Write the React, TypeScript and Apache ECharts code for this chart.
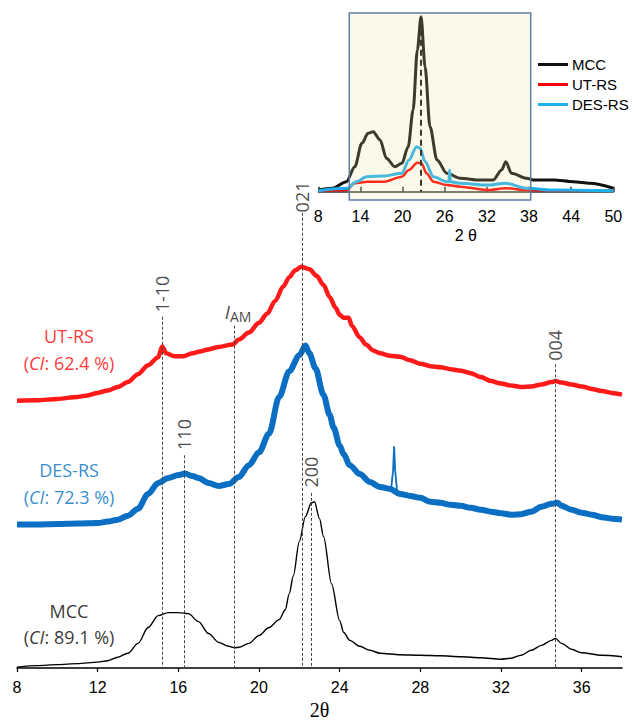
import React, { useEffect, useRef } from 'react';
import * as echarts from 'echarts';

// ---------- Main panel (values = height above the x axis) ----------
const mccX = [8, 9, 10, 11, 12, 12.5, 13, 13.5, 14, 14.5, 15, 15.5, 16, 16.5, 17, 17.5, 18, 18.5, 18.8, 19, 19.5, 20, 20.5, 21, 21.3, 21.5, 21.7, 22, 22.3, 22.6, 22.75, 23, 23.2, 23.6, 24, 24.2, 24.5, 25, 25.5, 26, 27, 28, 29, 30, 31, 32, 32.5, 33, 33.5, 34, 34.5, 34.7, 35, 35.5, 36, 37, 38];
const mccY = [1, 2.5, 3.5, 4.5, 6, 7.5, 11, 15, 25, 41, 53, 56, 56, 55, 47, 35, 26, 22, 20.5, 21, 25, 33, 41, 49, 59, 75, 93, 128, 153, 167, 168, 151, 133, 85, 48, 36, 28, 22, 18, 15, 13.5, 13, 12.5, 11.5, 10.5, 9, 10, 13, 18, 23, 28, 30, 25, 19, 15.5, 13, 11.5];

const desX = [8, 9, 10, 11, 12, 12.5, 13, 13.5, 14, 14.5, 15, 15.5, 16, 16.33, 16.7, 17, 17.5, 18, 18.5, 19, 19.5, 20, 20.5, 21, 21.5, 22, 22.3, 22.5, 22.8, 23.2, 23.5, 23.7, 24, 24.2, 24.5, 25, 25.5, 26, 26.5, 27, 27.5, 28, 28.5, 29, 29.5, 30, 30.5, 31, 31.5, 32, 32.5, 33, 33.5, 34, 34.5, 34.8, 35, 35.5, 36, 36.5, 37, 37.5, 38];
const desY = [145, 145, 145.5, 146, 146.5, 148, 150, 154, 161, 176, 187, 192, 195, 196.5, 194, 192, 187, 184, 186, 193, 205, 218, 237, 274, 300, 316, 326, 318, 303, 276, 256, 243, 225, 216, 205, 196, 188, 183, 181, 176, 174, 172, 168, 167, 165, 164, 162, 160, 158, 156.5, 155, 155.5, 158, 163, 166, 167, 164, 160, 157, 155, 152.5, 151, 150];
// narrow spike of DES-RS near 26.7°
const desSpikeX = [26.55, 26.65, 26.7, 26.75, 26.85];
const desSpikeY = [181, 200, 224, 200, 178];

const utX = [8, 9, 10, 11, 11.5, 12, 12.5, 13, 13.5, 14, 14.5, 15, 15.2, 15.4, 15.8, 16.25, 16.7, 17, 17.5, 18, 18.7, 19, 19.5, 20, 20.4, 20.8, 21.2, 21.5, 21.8, 22.1, 22.5, 22.86, 23.2, 23.5, 23.8, 24, 24.2, 24.45, 24.6, 25, 25.3, 25.66, 26, 26.5, 27, 27.5, 28, 28.5, 29, 29.5, 30, 30.5, 31, 31.5, 32, 32.5, 33, 33.5, 34, 34.5, 34.7, 35, 35.5, 36, 36.5, 37, 37.5, 38];
const utY = [270, 270.5, 272, 274, 275.5, 278, 280.5, 284, 289, 297, 306, 314, 325, 318, 315, 315, 318, 319.5, 322, 324.5, 327, 332, 339, 349, 358, 371, 385.5, 395, 402, 405.5, 403, 396.3, 387, 375, 364, 357, 354, 354, 346, 334, 327, 321, 318, 315.5, 314.5, 311, 307.5, 305, 304, 302, 300.5, 298, 294, 290, 287.5, 285.5, 284, 284.5, 286.5, 289, 290, 288.5, 286.5, 284.5, 282, 280, 278, 276.3];

// reflection markers (2θ, top of dashed line, label, label centre height)
const peakX = [15.2, 16.3, 18.75, 22.15, 22.6, 34.7];
const peakTop = [355, 215, 346, 460, 177, 307];
const peakLabels = ['1-10', '110', '', '021', '200', '004'];
const peakLabelY = [378, 236, 0, 476, 198, 326];

// ---------- Inset ----------
const imccX = [8, 10, 12, 13.2, 14.2, 15.1, 15.8, 16.8, 17.7, 18.9, 19.9, 20.8, 21.5, 22.1, 22.63, 23.2, 23.9, 24.9, 26.3, 28.2, 31, 32.9, 34.1, 34.7, 35.5, 37.7, 38.6, 41.5, 44.3, 46.7, 50];
const imccY = [1.7, 3.4, 10, 25, 48.4, 58.4, 60, 51.7, 33.4, 25, 28.4, 45, 81.7, 141.7, 175, 125, 65, 31.7, 18.4, 13.4, 11.7, 11.7, 21.7, 30, 18.4, 13.4, 11.7, 11.7, 10, 8.4, 3.4];
const iutX = [8, 12, 13.2, 15, 17.4, 19.9, 20.9, 22.1, 22.7, 23.4, 24.4, 26.3, 28.2, 32, 34.7, 37.7, 44, 50];
const iutY = [1, 1.7, 8.4, 10, 10, 15, 21.7, 29, 28.4, 18.4, 10, 6.7, 5, 1.7, 3.4, 1.7, 1, 1];
const idesX = [8, 12.1, 13.4, 14.9, 17.4, 19.9, 20.9, 22, 22.5, 23.2, 24.4, 26.3, 26.6, 26.7, 26.8, 28.2, 32, 34.7, 37.7, 41.5, 50];
const idesY = [1, 3.4, 10, 15, 15.7, 18.4, 31.7, 45, 43.4, 30, 15, 10, 10, 21.7, 10, 8.4, 6.7, 8.4, 3.4, 1.7, 1];
const insetPeakX = 22.63;
const insetPeakTop = 172;

const seriesNames = ['MCC', 'UT-RS', 'DES-RS'];

const pairs = (xs: number[], ys: number[]) => xs.map((x, i) => [x, ys[i]]);

export default function App() {
  const ref = useRef<HTMLDivElement>(null);
  useEffect(() => {
    if (!ref.current) return;
    const chart = echarts.init(ref.current, null, { renderer: 'svg' });
    const sans = '"Liberation Sans", Arial, sans-serif';
    const ui = '"Open Sans", "Noto Sans", sans-serif';

    const peakItems: any[] = [];
    peakX.forEach((x, i) => {
      if (!peakLabels[i]) return;
      peakItems.push({
        value: [x, peakLabelY[i]],
        label: {
          show: true, position: 'inside', rotate: 90, formatter: peakLabels[i],
          fontFamily: ui, fontSize: 18, color: '#1a1a1a',
        },
      });
    });
    peakItems.push({
      value: [18.96, 360],
      label: {
        show: true, position: 'inside', formatter: '{i|I}{s|AM}',
        rich: {
          i: { fontFamily: ui, fontStyle: 'italic', fontSize: 19, color: '#111' },
          s: { fontFamily: ui, fontSize: 14, color: '#111', padding: [9, 0, 0, 0] },
        },
      },
    });
    const nameLabel = (y: number, text: string, color: string) => ({
      value: [10.58, y],
      label: {
        show: true, position: 'inside', formatter: text, color,
        rich: {
          n: { fontFamily: ui, fontSize: 18, color },
          i: { fontFamily: ui, fontSize: 18, color, fontStyle: 'italic' },
        },
      },
    });
    peakItems.push(nameLabel(336, '{n|UT-RS}', '#ff0000'));
    peakItems.push(nameLabel(308, '{n|(}{i|CI}{n|: 62.4 %)}', '#ff0000'));
    peakItems.push(nameLabel(200, '{n|DES-RS}', '#0070c0'));
    peakItems.push(nameLabel(173, '{n|(}{i|CI}{n|: 72.3 %)}', '#0070c0'));
    peakItems.push(nameLabel(58, '{n|MCC}', '#000'));
    peakItems.push(nameLabel(31, '{n|(}{i|CI}{n|: 89.1 %)}', '#000'));

    const option: any = {
      animation: false,
      backgroundColor: '#ffffff',
      grid: [
        { left: 17, right: 12, top: 193, bottom: 52 },
        { left: 318.3, right: 20.7, top: 11.7, bottom: 533.3 },
      ],
      xAxis: [
        {
          gridIndex: 0, type: 'value', min: 8, max: 38, interval: 4,
          axisLine: { lineStyle: { color: '#000', width: 1.6 } },
          axisTick: { length: 4, lineStyle: { color: '#000', width: 1.2 } },
          axisLabel: { margin: 11, fontSize: 16, fontFamily: sans, color: '#000', showMaxLabel: false },
          splitLine: { show: false },
          name: '2θ', nameLocation: 'middle', nameGap: 27,
          nameTextStyle: { fontFamily: '"Liberation Serif", "DejaVu Serif", serif', fontSize: 20, color: '#000' },
        },
        {
          gridIndex: 1, type: 'value', min: 8, max: 50, interval: 6,
          axisLine: { lineStyle: { color: '#333', width: 1.5 } },
          axisTick: { length: 5, inside: true, lineStyle: { color: '#333', width: 1.5 } },
          axisLabel: { margin: 17, fontSize: 16, fontFamily: sans, color: '#000' },
          splitLine: { show: false },
          name: '2 θ', nameLocation: 'middle', nameGap: 36,
          nameTextStyle: { fontFamily: sans, fontSize: 16, color: '#000' },
        },
      ],
      yAxis: [
        { gridIndex: 0, type: 'value', min: 0, max: 480, show: false },
        { gridIndex: 1, type: 'value', min: 0, max: 180, show: false },
      ],
      legend: {
        data: seriesNames,
        orient: 'vertical', left: 533, top: 52, itemGap: 5,
        icon: 'rect', itemWidth: 30, itemHeight: 3,
        selectedMode: false,
        textStyle: { fontFamily: sans, fontSize: 15, color: '#000', padding: [0, 0, 0, -1] },
      },
      series: [
        {
          name: 'MCC main', type: 'line', xAxisIndex: 0, yAxisIndex: 0,
          data: pairs(mccX, mccY), showSymbol: false, smooth: 0.3, smoothMonotone: 'x',
          lineStyle: { color: '#000', width: 1.4 }, itemStyle: { color: '#000' }, z: 3,
          markLine: {
            silent: true, symbol: ['none', 'none'], label: { show: false },
            lineStyle: { type: [3, 2], color: '#444', width: 1 },
            data: peakX.map((x, i) => [{ coord: [x, peakTop[i]] }, { coord: [x, 0] }]),
          },
        },
        {
          name: 'DES-RS main', type: 'line', xAxisIndex: 0, yAxisIndex: 0,
          data: pairs(desX, desY), showSymbol: false, smooth: 0.3, smoothMonotone: 'x',
          lineStyle: { color: '#0a6fc2', width: 6 }, itemStyle: { color: '#0a6fc2' }, z: 2,
        },
        {
          name: 'DES-RS spike', type: 'line', xAxisIndex: 0, yAxisIndex: 0,
          data: pairs(desSpikeX, desSpikeY), showSymbol: false,
          lineStyle: { color: '#0a6fc2', width: 1.8 }, itemStyle: { color: '#0a6fc2' }, z: 2,
        },
        {
          name: 'UT-RS main', type: 'line', xAxisIndex: 0, yAxisIndex: 0,
          data: pairs(utX, utY), showSymbol: false, smooth: 0.3, smoothMonotone: 'x',
          lineStyle: { color: '#ff0000', width: 4.5, opacity: 0.9 }, itemStyle: { color: '#ff0000' }, z: 2,
        },
        {
          name: 'labels', type: 'scatter', xAxisIndex: 0, yAxisIndex: 0,
          symbolSize: 0, data: peakItems, silent: true, z: 10,
        },
        {
          name: 'MCC', type: 'line', xAxisIndex: 1, yAxisIndex: 1,
          data: pairs(imccX, imccY), showSymbol: false, smooth: 0.3, smoothMonotone: 'x',
          lineStyle: { color: '#111', width: 3 }, itemStyle: { color: '#111' },
          markLine: {
            silent: true, symbol: ['none', 'none'], label: { show: false },
            lineStyle: { type: [6, 4], color: '#111', width: 2 },
            data: [[{ coord: [insetPeakX, insetPeakTop] }, { coord: [insetPeakX, 0] }]],
          },
        },
        {
          name: 'UT-RS', type: 'line', xAxisIndex: 1, yAxisIndex: 1,
          data: pairs(iutX, iutY), showSymbol: false, smooth: 0.3, smoothMonotone: 'x',
          lineStyle: { color: '#ff0000', width: 2.5 }, itemStyle: { color: '#ff0000' },
        },
        {
          name: 'DES-RS', type: 'line', xAxisIndex: 1, yAxisIndex: 1,
          data: pairs(idesX, idesY), showSymbol: false, smooth: 0.3, smoothMonotone: 'x',
          lineStyle: { color: '#1cb0ee', width: 3 }, itemStyle: { color: '#1cb0ee' },
        },
      ],
      graphic: [
        {
          type: 'rect', z: 100, silent: true,
          shape: { x: 349.3, y: 13, width: 181.4, height: 187 },
          style: { fill: 'rgba(240,225,150,0.2)', stroke: '#5a7ea8', lineWidth: 1.5 },
        },
      ],
    };
    chart.setOption(option);
    return () => chart.dispose();
  }, []);
  return <div ref={ref} style={{ position: 'fixed', left: 0, top: 0, width: 634, height: 725 }} />;
}
